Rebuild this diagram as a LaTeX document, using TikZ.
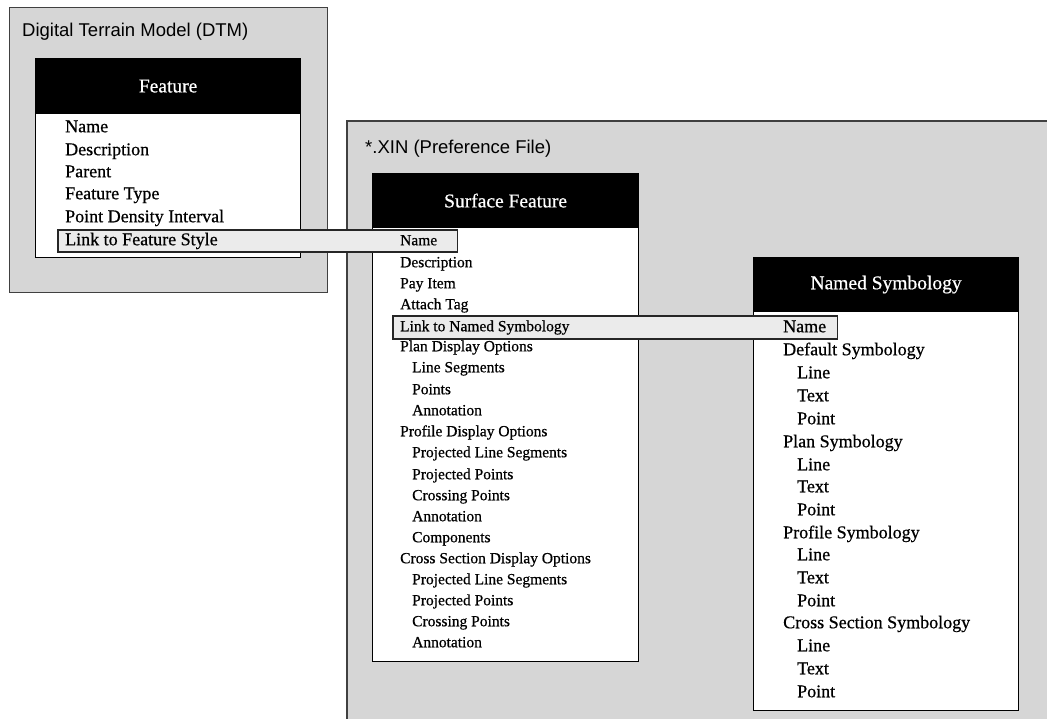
\documentclass[tikz,border=0pt]{standalone}
\usepackage{fontspec}
\setmainfont{Liberation Serif}
\setsansfont{Liberation Sans}
\newfontfamily\scanserif[FakeBold=0.6]{Liberation Serif}
\usetikzlibrary{positioning}
\pgfdeclarelayer{boxes}
\pgfdeclarelayer{bars}
\pgfsetlayers{boxes,bars,main}
\tikzset{
    panel/.style = {rectangle, draw=black!75, line width=1.2pt, fill=black!16, inner sep=0pt},
    paneledge/.style = {draw=black!75, line width=1.2pt},
    header/.style = {rectangle, draw=black, line width=1.2pt, fill=black, text=white, inner sep=0pt, font=\scanserif\fontsize{19.5}{22}\selectfont},
    body/.style = {rectangle, draw=black, line width=1.4pt, fill=white, inner sep=0pt},
    title/.style = {anchor=west, inner sep=0pt, font=\sffamily\fontsize{18.5}{21}\selectfont},
    item/.style = {anchor=west, inner sep=0pt, text height=0.9em, text depth=0.05em, font=\scanserif\fontsize{18}{20}\selectfont},
    itemsm/.style = {item, font=\scanserif\fontsize{15.5}{18}\selectfont},
    linkbar/.style = {draw=black!85, line width=1.2pt, fill=black!8}
}
\begin{document}
\begin{tikzpicture}[x=1pt,y=-1pt]
\useasboundingbox (0,0) rectangle (1047,719);
%
\begin{pgfonlayer}{boxes}
\node[panel, anchor=north west, minimum width=318pt, minimum height=285pt] at (9,7) (dtm) {};
\fill[black!16] (347,121) rectangle (1047,719);
\draw[paneledge] (347,719) -- (347,121) -- (1047,121);
\node[header, anchor=north west, minimum width=265pt, minimum height=55pt] at (35,58) (fthead) {Feature};
\node[body, anchor=north west, minimum width=265pt, minimum height=144pt] at (35,113) (ftbody) {};
\node[header, anchor=north west, minimum width=266pt, minimum height=54pt] at (372,173) (sfhead) {Surface Feature};
\node[body, anchor=north west, minimum width=266pt, minimum height=434pt] at (372,227) (sfbody) {};
\node[header, anchor=north west, minimum width=265pt, minimum height=54pt] at (753,257) (nshead) {Named Symbology};
\node[body, anchor=north west, minimum width=265pt, minimum height=399pt] at (753,311) (nsbody) {};
\end{pgfonlayer}
%
\node[title] at (22,32) (dtmtitle) {Digital Terrain Model (DTM)};
\node[title] at (365,149) (xintitle) {*.XIN (Preference File)};
%
\node[item] at (65,128) (ftname) {Name};
\node[item] at (65,151) (ftdesc) {Description};
\node[item] at (65,173) (ftparent) {Parent};
\node[item] at (65,195) (fttype) {Feature Type};
\node[item] at (65,218) (ftdensity) {Point Density Interval};
\node[item] at (65,241) (ftlink) {Link to Feature Style};
%
\node[itemsm] at (400,241) (sfname) {Name};
\node[itemsm] at (400,263) (sfdesc) {Description};
\node[itemsm] at (400,284) (sfpay) {Pay Item};
\node[itemsm] at (400,305) (sftag) {Attach Tag};
\node[itemsm] at (400,327) (sflink) {Link to Named Symbology};
\node[itemsm] at (400,347) (sfplan) {Plan Display Options};
\node[itemsm] at (412,368) (sfplanseg) {Line Segments};
\node[itemsm] at (412,390) (sfplanpts) {Points};
\node[itemsm] at (412,411) (sfplanann) {Annotation};
\node[itemsm] at (400,432) (sfprof) {Profile Display Options};
\node[itemsm] at (412,453) (sfprofseg) {Projected Line Segments};
\node[itemsm] at (412,475) (sfprofpts) {Projected Points};
\node[itemsm] at (412,496) (sfprofcross) {Crossing Points};
\node[itemsm] at (412,517) (sfprofann) {Annotation};
\node[itemsm] at (412,538) (sfprofcomp) {Components};
\node[itemsm] at (400,559) (sfxs) {Cross Section Display Options};
\node[itemsm] at (412,580) (sfxsseg) {Projected Line Segments};
\node[itemsm] at (412,601) (sfxspts) {Projected Points};
\node[itemsm] at (412,622) (sfxscross) {Crossing Points};
\node[itemsm] at (412,643) (sfxsann) {Annotation};
%
\node[item] at (783,328) (nsname) {Name};
\node[item] at (783,351) (nsdef) {Default Symbology};
\node[item] at (797,374) (nsdefline) {Line};
\node[item] at (797,397) (nsdeftext) {Text};
\node[item] at (797,420) (nsdefpoint) {Point};
\node[item] at (783,443) (nsplan) {Plan Symbology};
\node[item] at (797,466) (nsplanline) {Line};
\node[item] at (797,488) (nsplantext) {Text};
\node[item] at (797,511) (nsplanpoint) {Point};
\node[item] at (783,534) (nsprof) {Profile Symbology};
\node[item] at (797,556) (nsprofline) {Line};
\node[item] at (797,579) (nsproftext) {Text};
\node[item] at (797,602) (nsprofpoint) {Point};
\node[item] at (783,624) (nsxs) {Cross Section Symbology};
\node[item] at (797,647) (nsxsline) {Line};
\node[item] at (797,670) (nsxstext) {Text};
\node[item] at (797,693) (nsxspoint) {Point};
%
\begin{pgfonlayer}{bars}
\draw[linkbar] ([xshift=-7pt,yshift=-11pt]ftlink.west) rectangle ([xshift=20pt,yshift=11pt]sfname.east);
\draw[linkbar] ([xshift=-7pt,yshift=-12pt]sflink.west) rectangle ([xshift=11pt,yshift=12pt]nsname.east);
\end{pgfonlayer}
\end{tikzpicture}
\end{document}
